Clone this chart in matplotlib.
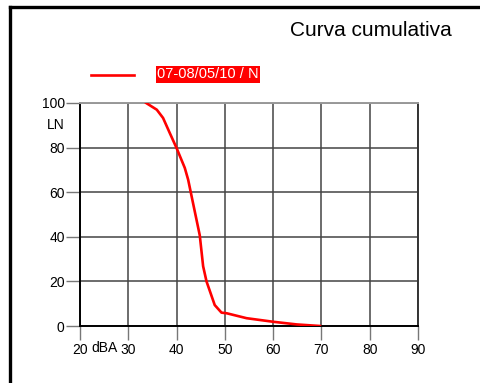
import matplotlib
matplotlib.use("Agg")
import matplotlib.pyplot as plt
from matplotlib.lines import Line2D

plt.rcParams['font.family'] = ['Liberation Sans', 'DejaVu Sans']

# Cumulative curve
level_dba = [33.7, 35.9, 37.2, 38.6, 40.0, 41.7, 42.4, 43.4, 44.8, 45.5,
             46.2, 47.9, 49.3, 50.4, 54.5, 60.0, 64.9, 69.7]
ln_pct = [100, 97, 93.3, 86.5, 79.8, 70.9, 65.6, 55.2, 40.7, 26.8,
          20, 9.4, 6.0, 5.7, 3.5, 1.9, 0.7, 0]
series_label = "07-08/05/10 / N"
x_ticks = [20, 30, 40, 50, 60, 70, 80, 90]
y_ticks = [0, 20, 40, 60, 80, 100]

W, H = 481, 383
fig = plt.figure(figsize=(W / 100, H / 100), dpi=100)

# outer frame (only left and top edges visible)
fig.add_artist(Line2D([10 / W, 10 / W], [0, 1 - 6.5 / H], color='black', lw=2.4))
fig.add_artist(Line2D([10 / W, 1], [1 - 6.5 / H, 1 - 6.5 / H], color='black', lw=2.4))

ax = fig.add_axes([80 / W, 1 - 326 / H, (418 - 80) / W, (326 - 103) / H])
ax.plot(level_dba, ln_pct, color='#ff0000', lw=1.9, zorder=3)

ax.set_xlim(20, 90)
ax.set_ylim(0, 100)
ax.set_xticks(x_ticks)
ax.set_yticks(y_ticks)
ax.set_xticklabels([str(v) for v in x_ticks])
ax.set_yticklabels([str(v) for v in y_ticks])
ax.grid(True, color='#444444', lw=1.1)
ax.set_axisbelow(True)
ax.tick_params(axis='both', direction='out', length=10, width=1.0,
               color='#777777', labelsize=10)
ax.tick_params(axis='x', pad=2)
ax.tick_params(axis='y', pad=1)
for side in ['left', 'bottom']:
    ax.spines[side].set_color('black')
    ax.spines[side].set_linewidth(1.4)
ax.spines['right'].set_color('#333333')
ax.spines['right'].set_linewidth(1.4)
ax.spines['top'].set_color('#999999')
ax.spines['top'].set_linewidth(1.4)

fig.text(56 / W, 1 - 125 / H, "LN", ha='center', va='center', fontsize=10)
fig.text(104 / W, 1 - 348 / H, "dBA", ha='center', va='center', fontsize=10)

fig.text(452 / W, 1 - 30 / H, "Curva cumulativa", ha='right', va='center',
         fontsize=15)

# legend
fig.add_artist(Line2D([91 / W, 134 / W], [1 - 75 / H, 1 - 75 / H],
                      color='#ff0000', lw=1.9))
fig.text(157 / W, 1 - 74.5 / H, series_label, ha='left', va='center',
         fontsize=10.5, color='white',
         bbox=dict(boxstyle='square,pad=0.1', facecolor='#ff0000',
                   edgecolor='none'))

fig.savefig("out.png", dpi=100)
